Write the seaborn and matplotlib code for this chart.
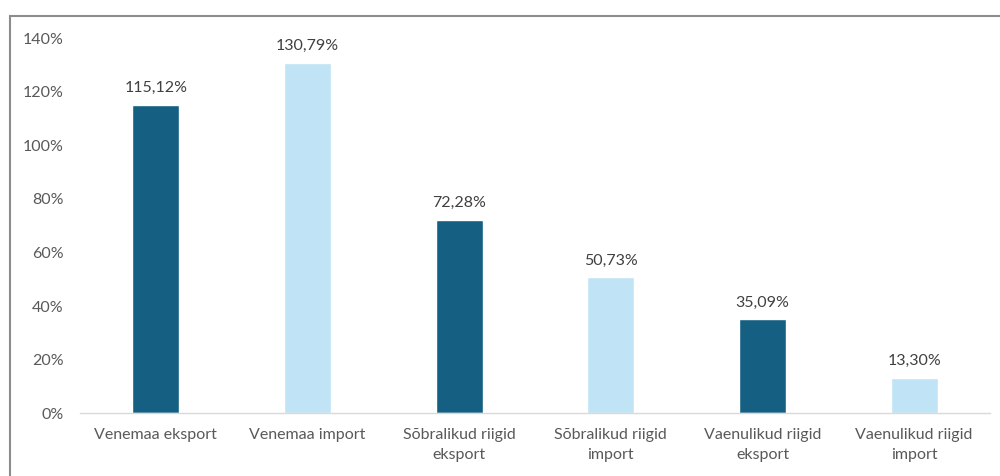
import matplotlib
matplotlib.use("Agg")
import matplotlib.pyplot as plt
import seaborn as sns
import pandas as pd
from matplotlib.patches import Rectangle

categories = [
    "Venemaa eksport",
    "Venemaa import",
    "Sõbralikud riigid\neksport",
    "Sõbralikud riigid\nimport",
    "Vaenulikud riigid\neksport",
    "Vaenulikud riigid\nimport",
]
values = [115.12, 130.79, 72.28, 50.73, 35.09, 13.30]
value_labels = ["115,12%", "130,79%", "72,28%", "50,73%", "35,09%", "13,30%"]
y_ticks = [0, 20, 40, 60, 80, 100, 120, 140]
y_tick_labels = ["0%", "20%", "40%", "60%", "80%", "100%", "120%", "140%"]

dark = "#156082"
light = "#C0E4F5"
palette = [dark, light, dark, light, dark, light]

sns.set_theme(style="white")
plt.rcParams["font.family"] = ["Lato", "DejaVu Sans"]

df = pd.DataFrame({"category": categories, "value": values})

fig = plt.figure(figsize=(10, 4.76), dpi=100)
ax = fig.add_axes([0.08, 0.132, 0.91, 0.788])

sns.barplot(data=df, x="category", y="value", hue="category", palette=palette,
            legend=False, width=0.31, ax=ax, saturation=1)

ax.set_ylim(0, 140)
ax.set_xlim(-0.5, 5.5)
ax.set_yticks(y_ticks)
ax.set_yticklabels(y_tick_labels, fontsize=11.5, color="#595959")
ax.tick_params(axis="x", labelsize=11.5, labelcolor="#595959", length=0, pad=11)
ax.tick_params(axis="y", length=0, pad=12)
for t in ax.get_xticklabels():
    t.set_linespacing(1.5)
ax.set_xlabel("")
ax.set_ylabel("")

for side in ["top", "right", "left"]:
    ax.spines[side].set_visible(False)
ax.spines["bottom"].set_color("#D9D9D9")
ax.spines["bottom"].set_linewidth(1)

for i, (v, lab) in enumerate(zip(values, value_labels)):
    ax.annotate(lab, xy=(i, v), xytext=(0, 7), textcoords="offset points",
                ha="center", va="bottom", fontsize=11.5, color="#404040")

# outer frame on the left and top edges
frame = Rectangle((0.010, -0.1), 1.2, 1.066, transform=fig.transFigure,
                  fill=False, edgecolor="#8C8C8C", linewidth=1.5, clip_on=False)
fig.add_artist(frame)

fig.savefig("out.png", dpi=100, facecolor="white")
